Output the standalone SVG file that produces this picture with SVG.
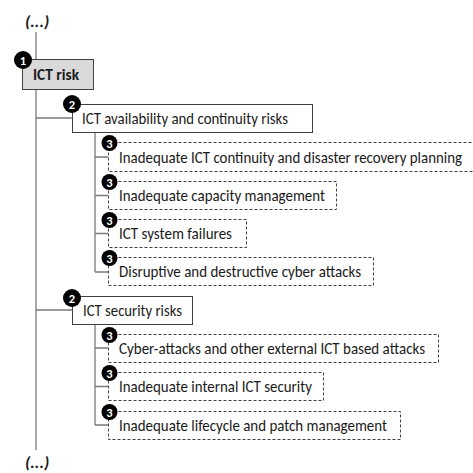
<svg xmlns="http://www.w3.org/2000/svg" width="473" height="473" viewBox="0 0 473 473">
<style>
text{font-family:Carlito,"Liberation Sans",Arial,sans-serif;fill:#1a1a1a}
.t{font-size:15.5px}
.b{font-size:16.5px;font-weight:bold}
.e{font-size:17px;font-weight:bold;font-style:italic}
.ln{stroke:#7a7a7a;stroke-width:1.3;fill:none}
.l1{fill:#d9d9d9;stroke:#404040;stroke-width:1}
.l2{fill:#fff;stroke:#404040;stroke-width:1}
.l3{fill:#fff;stroke:#404040;stroke-width:1;stroke-dasharray:3 2}
.bd{fill:#000}
.n{font-size:12.5px;font-weight:bold;fill:#fff;text-anchor:middle}
</style>
<rect width="473" height="473" fill="#fff"/>
<text class="e" x="25" y="27">(...)</text>
<text class="e" x="25" y="468">(...)</text>
<g id="connectors">
<path class="ln" d="M36 32V450"/>
<path class="ln" d="M36 118H72M36 310H72"/>
<path class="ln" d="M95 132V272M95 157H108M95 195.5H108M95 233.5H108M95 272H108"/>
<path class="ln" d="M95 324V425M95 348H108M95 386.5H108M95 425H108"/>
</g>
<g id="n1">
<rect class="l1" x="22.5" y="59.5" width="71" height="30"/>
<text class="b" x="33" y="79.5" textLength="46" lengthAdjust="spacingAndGlyphs">ICT risk</text>
<circle class="bd" cx="23" cy="60" r="9"/><text class="n" x="23" y="64.5">1</text>
</g>
<g id="n2a">
<rect class="l2" x="72.5" y="104.5" width="240" height="28"/>
<text class="t" x="82" y="123.5" textLength="206" lengthAdjust="spacingAndGlyphs">ICT availability and continuity risks</text>
<circle class="bd" cx="72" cy="104" r="9"/><text class="n" x="72" y="108.5">2</text>
</g>
<g id="n3a">
<rect class="l3" x="108.5" y="142.5" width="370" height="29"/>
<text class="t" x="119" y="162.5" textLength="343" lengthAdjust="spacingAndGlyphs">Inadequate ICT continuity and disaster recovery planning</text>
<circle class="bd" cx="109.5" cy="143" r="8"/><text class="n" x="109.5" y="147.5">3</text>
</g>
<g id="n3b">
<rect class="l3" x="108.5" y="181.5" width="228" height="28"/>
<text class="t" x="119" y="200.5" textLength="206" lengthAdjust="spacingAndGlyphs">Inadequate capacity management</text>
<circle class="bd" cx="109.5" cy="182" r="8"/><text class="n" x="109.5" y="186.5">3</text>
</g>
<g id="n3c">
<rect class="l3" x="108.5" y="219.5" width="138" height="28"/>
<text class="t" x="119" y="238.5" textLength="113" lengthAdjust="spacingAndGlyphs">ICT system failures</text>
<circle class="bd" cx="109.5" cy="220" r="8"/><text class="n" x="109.5" y="224.5">3</text>
</g>
<g id="n3d">
<rect class="l3" x="108.5" y="257.5" width="265" height="28"/>
<text class="t" x="119" y="276.5" textLength="242" lengthAdjust="spacingAndGlyphs">Disruptive and destructive cyber attacks</text>
<circle class="bd" cx="109.5" cy="258" r="8"/><text class="n" x="109.5" y="262.5">3</text>
</g>
<g id="n2b">
<rect class="l2" x="72.5" y="296.5" width="120" height="28"/>
<text class="t" x="83" y="315.5" textLength="99" lengthAdjust="spacingAndGlyphs">ICT security risks</text>
<circle class="bd" cx="72" cy="298" r="9"/><text class="n" x="72" y="302.5">2</text>
</g>
<g id="n3e">
<rect class="l3" x="108.5" y="334.5" width="330" height="28"/>
<text class="t" x="119" y="353.5" textLength="306" lengthAdjust="spacingAndGlyphs">Cyber-attacks and other external ICT based attacks</text>
<circle class="bd" cx="109.5" cy="335" r="8"/><text class="n" x="109.5" y="339.5">3</text>
</g>
<g id="n3f">
<rect class="l3" x="108.5" y="372.5" width="215" height="28"/>
<text class="t" x="119" y="391.5" textLength="193" lengthAdjust="spacingAndGlyphs">Inadequate internal ICT security</text>
<circle class="bd" cx="109.5" cy="373" r="8"/><text class="n" x="109.5" y="377.5">3</text>
</g>
<g id="n3g">
<rect class="l3" x="108.5" y="411.5" width="292" height="28"/>
<text class="t" x="119" y="430.5" textLength="268" lengthAdjust="spacingAndGlyphs">Inadequate lifecycle and patch management</text>
<circle class="bd" cx="109.5" cy="412" r="8"/><text class="n" x="109.5" y="416.5">3</text>
</g>
</svg>
